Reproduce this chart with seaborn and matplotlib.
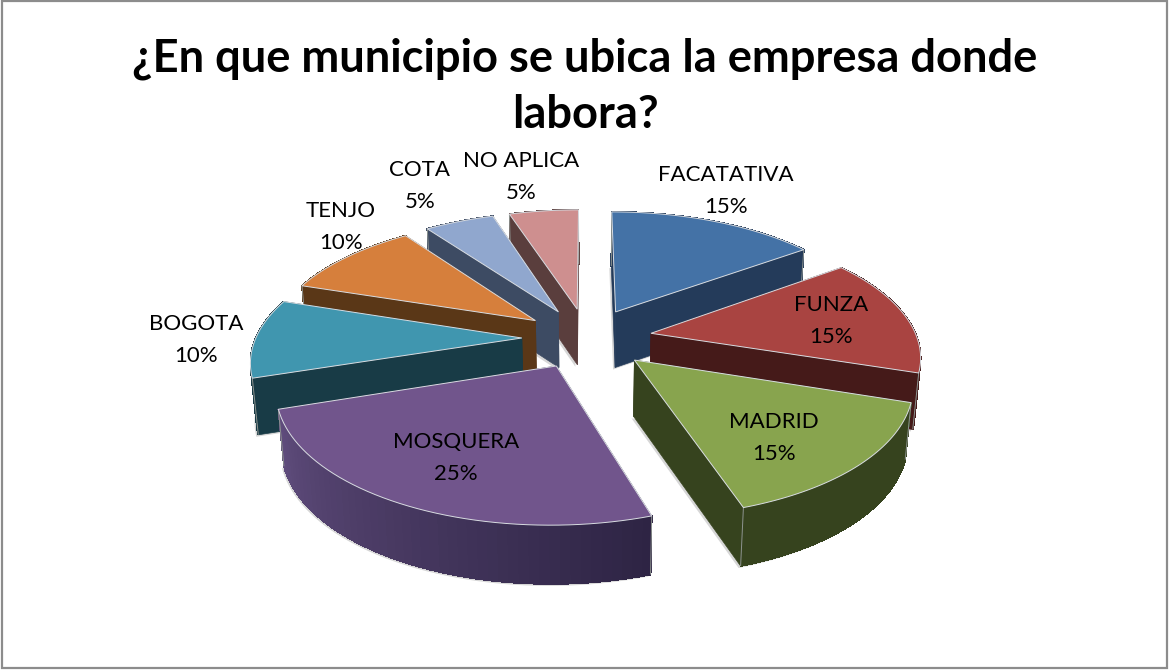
import numpy as np
import matplotlib
matplotlib.use("Agg")
import matplotlib.pyplot as plt
from matplotlib.patches import Polygon, Rectangle
import seaborn as sns

# ---- data ----
municipios = ["FACATATIVA", "FUNZA", "MADRID", "MOSQUERA", "BOGOTA", "TENJO", "COTA", "NO APLICA"]
porcentajes = [15, 15, 15, 25, 10, 10, 5, 5]
titulo = "¿En que municipio se ubica la empresa donde\nlabora?"

# ---- style ----
top_colors = ["#4472A6", "#A94441", "#88A44E", "#71558C", "#4096AF", "#D67F3C", "#90A7CE", "#CE8F8F"]
wall_from = ["#243B5A", "#451A19", "#36431E", "#2E2444", "#183B46", "#5A3717", "#3D4B63", "#5A3E3D"]
wall_to = ["#243B5A", "#451A19", "#36431E", "#5F4C7C", "#183B46", "#5A3717", "#3D4B63", "#5A3E3D"]
label_xy = [(726, 191), (831, 321), (774, 438), (456, 458), (196, 340), (341, 227), (420, 186), (521, 177)]

sns.set_theme(style="white", rc={"figure.facecolor": "white", "axes.facecolor": "white"})
plt.rcParams["font.family"] = ["Lato", "DejaVu Sans"]

# ---- geometry parameters (screen pixels) ----
CX, CY = 587.0, 338.0
RADIUS, TILT, PERSP = 266.0, 0.465, 0.16
EXPLODE, DEPTH, BOTTOM_SHRINK = 0.245, 56.0, 0.982


def project(x, y, lower=False):
    s = 1.0 / (1.0 + PERSP * y)
    px = CX + RADIUS * x * s
    py = CY - RADIUS * TILT * y * s
    if lower:
        px = CX + (px - CX) * BOTTOM_SHRINK
        py = py + DEPTH * (0.8 + 0.2 * s)
    return px, py


fig = plt.figure(figsize=(11.69, 6.70), dpi=100)
ax = fig.add_axes([0, 0, 1, 1])
ax.set_xlim(0, 1169)
ax.set_ylim(670, 0)
ax.axis("off")
ax.add_patch(Rectangle((2, 1), 1165, 667, fill=False, ec="#8C8C8C", lw=1.6))

shares = np.asarray(porcentajes, float) / sum(porcentajes)
ends = np.cumsum(shares) * 2 * np.pi
starts = ends - shares * 2 * np.pi
mids = (starts + ends) / 2


def wedge_points(i, n=50):
    ex, ey = EXPLODE * np.sin(mids[i]), EXPLODE * np.cos(mids[i])
    th = np.linspace(starts[i], ends[i], n)
    return ex, ey, ex + np.sin(th), ey + np.cos(th)


order = np.argsort(-np.cos(mids))
EDGE = "#D9DDE2"
z = 2
for i in order:
    ex, ey, xs, ys = wedge_points(i)
    top = [project(a, b) for a, b in zip(xs, ys)]
    bot = [project(a, b, True) for a, b in zip(xs, ys)]
    apex_t = project(ex, ey)
    apex_b = project(ex, ey, True)

    # soft shadow at the foot of the slice
    outline = np.array([apex_b] + bot)
    ax.add_patch(Polygon(outline + [-2, 2], closed=True, fc="#9A9A9A", ec="none", alpha=0.4, zorder=z))

    # radial faces, farther one first
    faces = [(top[0], bot[0]), (top[-1], bot[-1])]
    if ys[0] < ys[-1]:
        faces = faces[::-1]
    for t, b in faces:
        ax.add_patch(Polygon([apex_t, t, b, apex_b], closed=True,
                             fc=wall_from[i], ec=wall_from[i], lw=0.5, zorder=z))
    # curved outer wall, shaded along its length
    seg = sns.blend_palette([wall_from[i], wall_to[i]], len(top) - 1)
    for k in range(len(top) - 1):
        ax.add_patch(Polygon([top[k], top[k + 1], bot[k + 1], bot[k]], closed=True,
                             fc=seg[k], ec=seg[k], lw=0.6, antialiased=False, zorder=z))
    # light vertical corner
    for t, b in ((top[0], bot[0]), (top[-1], bot[-1])):
        ax.plot([t[0], b[0]], [t[1], b[1]], color="#8E9490", lw=0.7, solid_capstyle="butt", zorder=z)
    # top surface
    ax.add_patch(Polygon([apex_t] + top, closed=True, fc=top_colors[i], ec=EDGE, lw=0.7, zorder=z))
    z += 1

for name, pct, (x, y) in zip(municipios, porcentajes, label_xy):
    ax.text(x, y, f"{name}\n{pct}%", ha="center", va="center", fontsize=16,
            color="black", linespacing=1.75, zorder=z)

ax.text(585, 87, titulo, ha="center", va="center", fontsize=32.6, fontweight="bold",
        color="black", linespacing=1.4, zorder=z)

fig.savefig("out.png", dpi=100)
